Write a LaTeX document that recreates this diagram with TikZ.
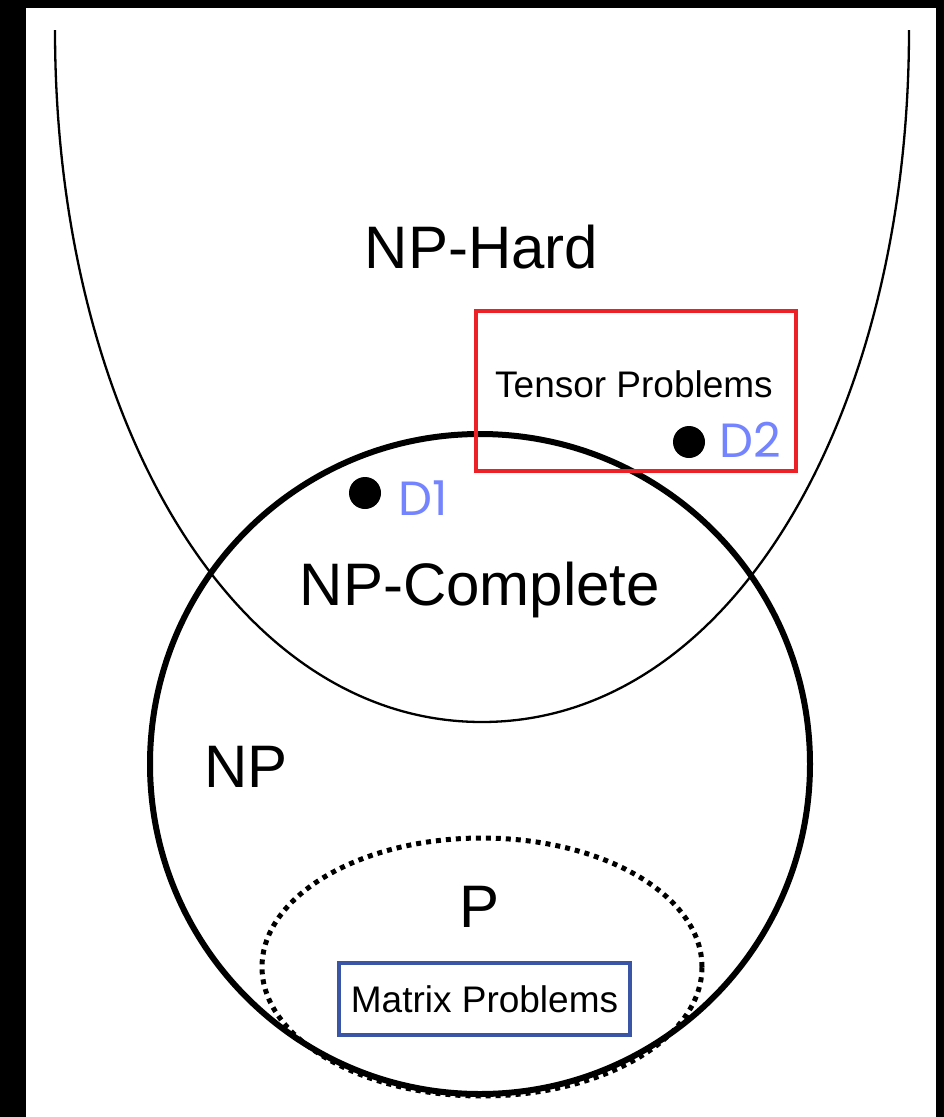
\documentclass[tikz,border=0pt]{standalone}
\usepackage{fontspec}
\setmainfont{Liberation Sans}
\newfontfamily\labelfont{Poppins}
\usetikzlibrary{shapes.geometric}
\definecolor{tred}{HTML}{EC2027}
\definecolor{mblue}{HTML}{3B55A6}
\definecolor{lblue}{HTML}{7484FF}
\tikzset{
  bigtext/.style={anchor=base, font=\fontsize{60}{60}\selectfont},
  boxtext/.style={font=\fontsize{37}{37}\selectfont},
  dotlabel/.style={anchor=base west, text=lblue, inner sep=0pt,
    font=\labelfont\fontsize{48}{48}\selectfont},
  point/.style={circle, fill=black, minimum size=32pt, inner sep=0pt},
}
\begin{document}
\begin{tikzpicture}[x=1pt, y=-1pt]
\useasboundingbox (0,0) rectangle (944,1117);
% frame
\fill[black] (0,0) rectangle (944,1117);
\fill[white] (26,8) rectangle (936,1117);

% NP-Hard region: open U-shaped boundary
\coordinate (hl) at (55,30);
\coordinate (hb) at (482,722);
\coordinate (hr) at (909,30);
\draw[line width=2.3pt] (hl) .. controls (55,411) and (230,722) .. (hb)
  .. controls (734,722) and (909,411) .. (hr);

% NP circle
\node[circle, draw, line width=6pt, minimum size=660pt, inner sep=0pt] (npcircle) at (480,764) {};

% P region
\node[ellipse, draw, line width=5pt, dash pattern=on 5pt off 5pt,
  minimum width=440pt, minimum height=258pt, inner sep=0pt] (pset) at (482,967) {};

% problem boxes
\node[draw=tred, line width=4.7pt, minimum width=320pt, minimum height=160pt, inner sep=0pt] (tensorbox) at (636,391) {};
\node[anchor=base, boxtext] (tensor) at (634,397) {Tensor Problems};
\node[draw=mblue, line width=4.2pt, minimum width=291pt, minimum height=72pt, inner sep=0pt, boxtext] (matrix) at (484.5,999) {Matrix Problems};

% points
\node[point] (d1) at (365,493) {};
\node[dotlabel] (d1lab) at (398,515) {D1};
\node[point] (d2) at (689,442) {};
\node[dotlabel] (d2lab) at (719,457) {D2};

% class labels
\node[bigtext] (nphard) at (481.5,268) {NP-Hard};
\node[bigtext] (npc) at (480,605) {NP-Complete};
\node[bigtext] (np) at (246,787) {NP};
\node[bigtext] (p) at (480,927) {P};
\end{tikzpicture}
\end{document}
